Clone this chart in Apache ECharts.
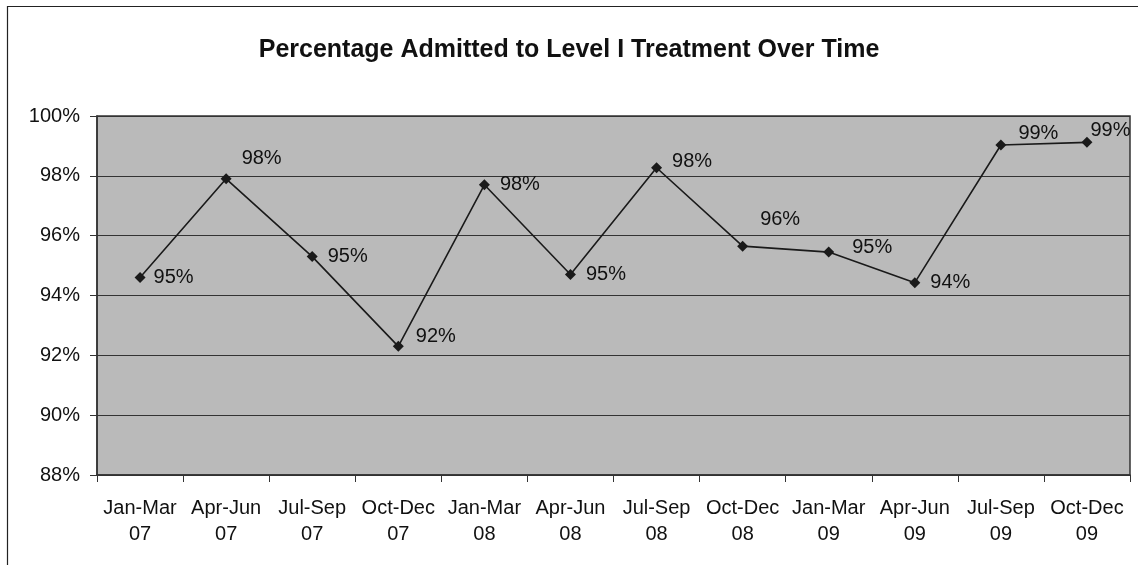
<!DOCTYPE html>
<html><head><meta charset="utf-8">
<script src="https://cdn.jsdelivr.net/npm/echarts@6/dist/echarts.min.js"></script>
<style>html,body{margin:0;padding:0;background:#fff}#c{width:1138px;height:565px}</style>
</head><body><div id="c"></div>
<script>
const categories = ['Jan-Mar\n07','Apr-Jun\n07','Jul-Sep\n07','Oct-Dec\n07','Jan-Mar\n08','Apr-Jun\n08','Jul-Sep\n08','Oct-Dec\n08','Jan-Mar\n09','Apr-Jun\n09','Jul-Sep\n09','Oct-Dec\n09'];
const percentAdmitted = [94.6, 97.9, 95.3, 92.3, 97.7, 94.7, 98.27, 95.65, 95.45, 94.43, 99.03, 99.12];
const yTicks = { min: 88, max: 100, interval: 2 };
const title = 'Percentage Admitted to Level I Treatment Over Time';

// label nudges (style only)
const labelOffsets = [[0,0],[2,-20],[2,0],[4,-10],[2,0],[2,0],[2,-6],[4,-27],[10,-5],[2,0],[4,-12],[-10,-12]];

const chart = echarts.init(document.getElementById('c'), null, {renderer:'canvas'});
const FONT = 'Liberation Sans, Arial, sans-serif';
chart.setOption({
  backgroundColor: '#fff',
  animation: false,
  title: { text: title, left: 'center', top: 33,
    textStyle: { fontFamily: FONT, fontSize: 25, fontWeight: 'bold', color: '#111' } },
  graphic: [{ type: 'rect', shape: { x: 7.5, y: 6.5, width: 1140, height: 600 },
    style: { fill: 'none', stroke: '#222', lineWidth: 1.2 }, silent: true, z: -1 }],
  grid: { left: 97, right: 8, top: 116, bottom: 90, show: true,
    backgroundColor: '#bababa', borderColor: '#333', borderWidth: 1.5 },
  xAxis: { type: 'category', data: categories, boundaryGap: true,
    axisLine: { lineStyle: { color: '#333', width: 1.5 } },
    axisTick: { show: true, length: 7, lineStyle: { color: '#333' } },
    axisLabel: { fontFamily: FONT, fontSize: 20, color: '#111', lineHeight: 26, margin: 20, interval: 0 },
    splitLine: { show: false } },
  yAxis: { type: 'value', min: yTicks.min, max: yTicks.max, interval: yTicks.interval,
    axisLine: { show: true, lineStyle: { color: '#333', width: 1.5 } },
    axisTick: { show: true, length: 7, lineStyle: { color: '#333' } },
    axisLabel: { fontFamily: FONT, fontSize: 20, color: '#111', margin: 17, formatter: '{value}%' },
    splitLine: { lineStyle: { color: '#333', width: 1.2 } } },
  series: [{
    type: 'line',
    data: percentAdmitted.map((v, i) => ({ value: v,
      label: { offset: labelOffsets[i] } })),
    symbol: 'diamond', symbolSize: 11,
    lineStyle: { color: '#1a1a1a', width: 1.6 },
    itemStyle: { color: '#1a1a1a' },
    label: { show: true, position: 'right', distance: 8,
      fontFamily: FONT, fontSize: 20, color: '#111',
      formatter: p => Math.round(p.value) + '%' }
  }]
});
</script></body></html>
